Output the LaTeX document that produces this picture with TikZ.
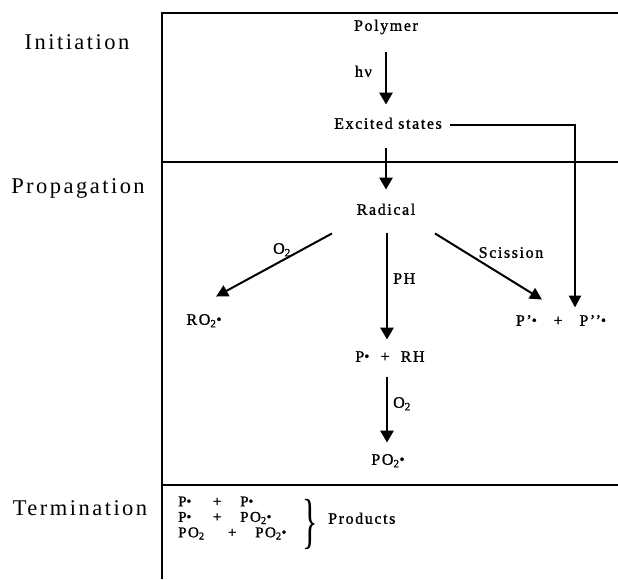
\documentclass[tikz,border=0pt]{standalone}
\usepackage{fontspec}
\setmainfont{Liberation Serif}
\newfontfamily\stagefont[LetterSpace=11]{Liberation Serif}
\newfontfamily\chemfont[LetterSpace=10,FakeBold=1.2]{Liberation Serif}
\usetikzlibrary{arrows.meta}
\newcommand{\rad}{\raisebox{0.1ex}{\scalebox{0.9}{•}}}
\newcommand{\sub}[1]{\textsubscript{#1}}
\newcommand{\rxrow}[3]{\makebox[#1][l]{#2}\makebox[12pt][c]{+}\hspace{17pt}#3}
\begin{document}
\begin{tikzpicture}[x=1pt,y=-1pt,
  stage/.style={font=\stagefont\fontsize{22.5}{26}\selectfont, inner sep=0pt},
  chem/.style={font=\chemfont\fontsize{16}{17}\selectfont, inner sep=0pt, text height=10.5pt, text depth=3pt},
  bigarrow/.style={line width=2.8pt, -{Triangle[length=12pt,width=13pt]}},
  diagarrow/.style={line width=2pt, -{Triangle[length=12pt,width=12pt]}},
  sidearrow/.style={line width=2.4pt, -{Triangle[length=12pt,width=12pt]}},
  thinline/.style={line width=1.3pt},
  boxline/.style={line width=1.3pt}]
\useasboundingbox (0,0) rectangle (618,579);

% frame
\coordinate (tl) at (162,13);
\coordinate (tr) at (618,13);
\coordinate (bl) at (162,579);
\coordinate (m1l) at (162,162);
\coordinate (m1r) at (618,162);
\coordinate (m2l) at (162,485);
\coordinate (m2r) at (618,485);
\draw[boxline] (tr) -- (tl) -- (bl);
\draw[boxline] (m1l) -- (m1r);
\draw[boxline] (m2l) -- (m2r);

% stage labels
\node[stage] (init) at (77,42) {Initiation};
\node[stage] (prop) at (78,188) {Propagation};
\node[stage] (term) at (80,508) {Termination};

% species
\node[chem] (poly) at (386,27) {Polymer};
\node[chem] (exc) at (388,125) {Excited states};
\node[chem] (radl) at (386,211) {Radical};
\node[chem] (ro) at (204,321) {RO\sub{2}\rad};
\node[chem] (pp) at (561,322) {P’\rad\ \ \ +\ \ \ P’’\rad};
\node[chem] (pr) at (390,358) {P\rad\ \ +\ \ RH};
\node[chem] (po) at (388,461) {PO\sub{2}\rad};

% arrows
\draw[bigarrow, shorten <=18.5pt, shorten >=13.5pt] (poly.south) -- (poly.south |- exc.north);
\node[chem, anchor=east] (hv) at (372,73) {hν};
\draw[bigarrow, shorten <=16.5pt, shorten >=14.5pt] (radl.north |- exc.south) -- (radl.north);
\draw[diagarrow] ([xshift=-54pt,yshift=-15.5pt]radl.south) -- ([xshift=12pt,yshift=17.5pt]ro.north);
\draw[diagarrow] ([xshift=49pt,yshift=-15.5pt]radl.south) -- ([xshift=-19pt,yshift=15.5pt]pp.north);
\draw[bigarrow, shorten <=15.5pt, shorten >=11.5pt] ([xshift=1pt]radl.south) -- ([xshift=1pt]radl.south |- pr.north);
\draw[bigarrow, shorten <=12.5pt, shorten >=11.5pt] ([xshift=1pt]radl.south |- pr.south) -- ([xshift=1pt]radl.south |- po.north);

\coordinate (corner) at (575,0);
\draw[thinline, shorten <=8pt] (exc.east) -- (exc.east -| corner);
\draw[sidearrow, shorten >=7.5pt] ([yshift=0.6pt]exc.east -| corner) -- (corner |- pp.north);

% labels
\node[chem] (o2a) at (282,250) {O\sub{2}};
\node[chem, anchor=west] (ph) at (393,280) {PH};
\node[chem] (sc) at (511,254) {Scission};
\node[chem, anchor=west] (o2b) at (393,404) {O\sub{2}};

% termination
\node[anchor=west, inner sep=0pt, align=left, font=\chemfont\fontsize{15}{15.5}\selectfont] (rx) at (178,518) {%
  \rxrow{33pt}{P\rad}{P\rad}\\
  \rxrow{33pt}{P\rad}{PO\sub{2}\rad}\\
  \rxrow{48pt}{PO\sub{2}}{PO\sub{2}\rad}};
\node[inner sep=0pt] (br) at (310,524) {\fontsize{16}{16}\selectfont\scalebox{2}[3.8]{\}}};
\node[chem, anchor=west] (prod) at (328,520) {Products};
\end{tikzpicture}
\end{document}
